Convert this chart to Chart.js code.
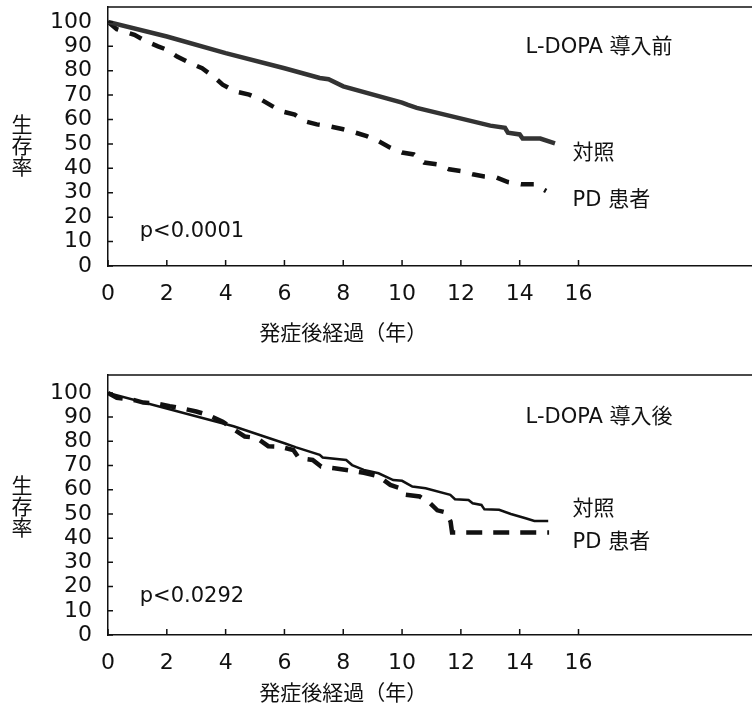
<!DOCTYPE html>
<html>
<head>
<meta charset="utf-8">
<script src="https://cdn.jsdelivr.net/npm/chart.js@4"></script>
<style>
  body { margin: 0; background: #fff; width: 752px; height: 706px; overflow: hidden; }
  canvas { display: block; }
</style>
</head>
<body>
<canvas id="c1" width="752" height="353"></canvas>
<canvas id="c2" width="752" height="353"></canvas>
<script>
// 軸の目盛
const xTicks = [0, 2, 4, 6, 8, 10, 12, 14, 16];
const yTicks = [0, 10, 20, 30, 40, 50, 60, 70, 80, 90, 100];

// L-DOPA 導入前
const beforeCtrlT = [0, 2, 4, 6, 7.2, 7.5, 8, 10, 10.2, 10.5, 13, 13.5, 13.6, 14.0, 14.1, 14.7, 15.2];
const beforeCtrlV = [100, 94, 87.2, 81, 77, 76.5, 73.6, 66.9, 66, 64.8, 57.5, 56.6, 54.6, 53.9, 52.2, 52.2, 50.2];
const beforePdT = [0, 0.3, 0.9, 1.3, 1.7, 2.0, 2.35, 2.8, 3.2, 3.6, 3.9, 4.3, 4.8, 5.2, 5.6, 5.9, 6.35, 6.7, 7.1, 7.5,
  8.0, 8.4, 8.8, 9.2, 9.6, 10.0, 10.4, 10.75, 11.2, 11.6, 12.0, 12.4, 12.8, 13.2, 13.6, 14.05, 14.5, 14.9];
const beforePdV = [100, 97, 94.7, 92, 90, 88.6, 85.8, 83.1, 81, 77.5, 74.3, 71.6, 70.2, 68.2, 65.4, 63.4, 62, 59.3, 58, 57.3,
  56, 54.7, 53.2, 51.1, 48.5, 46.5, 45.7, 42.4, 41.6, 39.6, 38.9, 37.6, 36.7, 36.3, 34.4, 33.5, 33.5, 30.7];

// L-DOPA 導入後
const afterCtrlT = [0, 4.27, 6, 6.4, 7.2, 7.3, 8.1, 8.3, 8.7, 9.2, 9.7, 10.0, 10.35, 10.8, 11.64, 11.8, 12.26, 12.4,
  12.7, 12.8, 13.3, 13.7, 14.2, 14.5, 14.97];
const afterCtrlV = [100, 86.2, 79.2, 77.5, 74.4, 73.3, 72.3, 70.2, 68.2, 66.8, 64, 63.7, 61.3, 60.6, 57.9, 56.1, 55.8, 54.4,
  53.7, 51.9, 51.7, 50, 48.2, 47.1, 47.1];
const afterPdT = [0, 0.3, 0.9, 1.2, 1.7, 2.1, 2.6, 3.0, 3.4, 3.9, 4.3, 4.65, 5.05, 5.45, 5.85, 6.3, 6.5, 6.96, 7.25, 7.7,
  8.2, 8.7, 9.2, 9.6, 9.95, 10.1, 10.6, 10.9, 11.2, 11.5, 11.65, 11.7, 15.0];
const afterPdV = [100, 98, 97, 96, 95.5, 94.5, 93.4, 92.3, 90.9, 88.1, 84.7, 82, 81.4, 78, 77.8, 76.4, 73, 72.3, 69.6, 68.9,
  68, 67, 65.5, 62, 60.6, 58, 57.2, 55, 51.5, 50.6, 46.8, 42.3, 42.3];

const toPts = (ts, vs) => ts.map((t, i) => ({ x: t, y: vs[i] }));
const ink = '#111';
const numFont = { family: '"DejaVu Sans", "Noto Sans CJK JP"', size: 22 };

const deco = {
  id: 'deco',
  afterDraw(chart, args, opts) {
    const ctx = chart.ctx, x = chart.scales.x, y = chart.scales.y, a = chart.chartArea;
    ctx.save();
    ctx.strokeStyle = ink;
    ctx.lineWidth = 1.5;
    ctx.beginPath();
    ctx.moveTo(a.left, a.top);
    ctx.lineTo(a.right, a.top);
    xTicks.forEach(v => {
      const px = x.getPixelForValue(v);
      ctx.moveTo(px, a.bottom);
      ctx.lineTo(px, a.bottom - 6);
    });
    yTicks.forEach(v => {
      const py = y.getPixelForValue(v);
      ctx.moveTo(a.left, py);
      ctx.lineTo(a.left + 5, py);
    });
    ctx.stroke();

    ctx.fillStyle = ink;
    ctx.textBaseline = 'middle';
    ctx.font = '21px "DejaVu Sans", "Noto Sans CJK JP"';
    opts.notes.forEach(n => ctx.fillText(n.text, x.getPixelForValue(n.x), y.getPixelForValue(n.y)));

    ctx.textAlign = 'center';
    ctx.font = '21px "Noto Sans CJK JP"';
    [...'生存率'].forEach((ch, i) => ctx.fillText(ch, 22, opts.yTitleTop + i * 21));
    ctx.fillText('発症後経過（年）', x.getPixelForValue(8), a.bottom + opts.xTitleGap);
    ctx.restore();
  }
};

function makeChart(id, ctrl, pd, o) {
  new Chart(document.getElementById(id), {
    type: 'line',
    data: {
      datasets: [
        { label: '対照', data: ctrl, borderColor: o.ctrlColor, borderWidth: o.ctrlWidth, pointRadius: 0, tension: 0 },
        { label: 'PD 患者', data: pd, borderColor: ink, borderWidth: 4.5, borderDash: o.dash, pointRadius: 0, tension: 0 }
      ]
    },
    options: {
      responsive: false,
      animation: false,
      layout: { padding: { top: o.top, right: 0, left: 0, bottom: 0 } },
      plugins: {
        legend: { display: false },
        tooltip: { enabled: false },
        deco: o.deco
      },
      scales: {
        x: {
          type: 'linear',
          min: 0,
          max: 21.9,
          afterFit: s => { s.height = o.xHeight; s.paddingLeft = 0; s.paddingRight = 0; },
          afterBuildTicks: s => { s.ticks = xTicks.map(v => ({ value: v })); },
          grid: { display: false, drawTicks: false },
          border: { display: true, color: ink, width: 1.5 },
          ticks: { color: ink, font: numFont, padding: 15, maxRotation: 0, autoSkip: false }
        },
        y: {
          min: 0,
          max: o.yMax,
          afterFit: s => { s.width = 108; s.paddingTop = 0; s.paddingBottom = 0; },
          afterBuildTicks: s => { s.ticks = yTicks.map(v => ({ value: v })); },
          grid: { display: false, drawTicks: false },
          border: { display: true, color: ink, width: 1.5 },
          ticks: { color: ink, font: numFont, padding: 16, autoSkip: false }
        }
      }
    },
    plugins: [deco]
  });
}

makeChart('c1', toPts(beforeCtrlT, beforeCtrlV), toPts(beforePdT, beforePdV), {
  top: 7, xHeight: 87, yMax: 106.1, ctrlColor: '#333', ctrlWidth: 4.5, dash: [13, 12],
  deco: {
    yTitleTop: 124, xTitleGap: 66,
    notes: [
      { text: 'L-DOPA 導入前', x: 14.2, y: 89.4 },
      { text: '対照', x: 15.8, y: 46 },
      { text: 'PD 患者', x: 15.8, y: 27 },
      { text: 'p<0.0001', x: 1.08, y: 14.3 }
    ]
  }
});

makeChart('c2', toPts(afterCtrlT, afterCtrlV), toPts(afterPdT, afterPdV), {
  top: 22, xHeight: 71, yMax: 107.4, ctrlColor: ink, ctrlWidth: 2.5, dash: [16, 11],
  deco: {
    yTitleTop: 132, xTitleGap: 57,
    notes: [
      { text: 'L-DOPA 導入後', x: 14.2, y: 90 },
      { text: '対照', x: 15.8, y: 51.7 },
      { text: 'PD 患者', x: 15.8, y: 38 },
      { text: 'p<0.0292', x: 1.08, y: 15.7 }
    ]
  }
});
</script>
</body>
</html>
